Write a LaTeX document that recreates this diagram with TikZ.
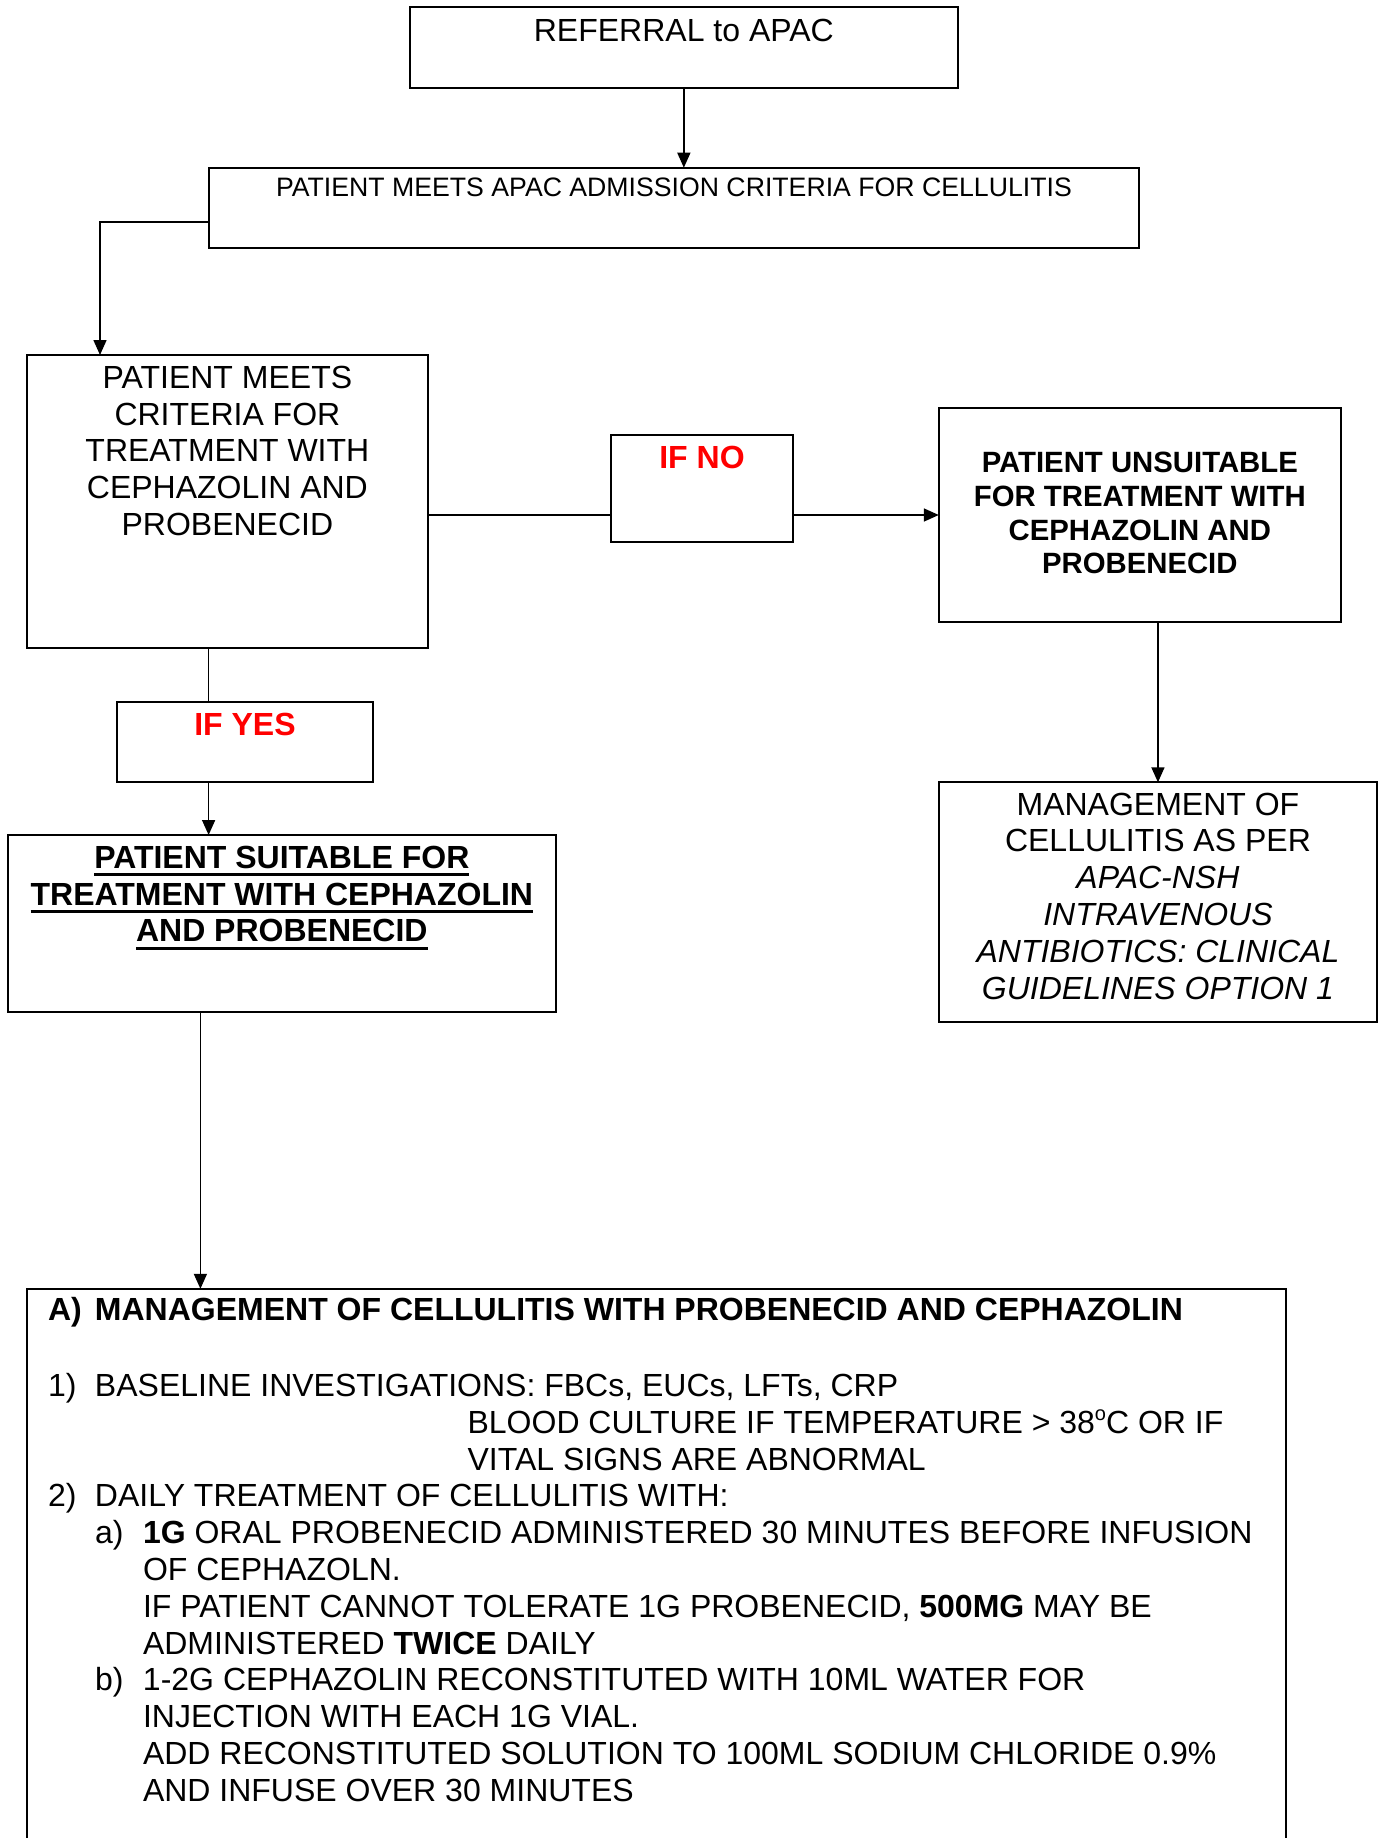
\documentclass[tikz,border=0pt]{standalone}
\usepackage{fontspec}
\setmainfont{Liberation Sans}
\usetikzlibrary{arrows.meta}
\newcommand\szA{\fontsize{32}{36.8}\selectfont}
\newcommand\szB{\fontsize{26.67}{30.67}\selectfont}
\newcommand\szC{\fontsize{29.33}{33.73}\selectfont}
\newcommand\ulbox[1]{\leavevmode\setbox0=\hbox{#1}\rlap{\rule[-8pt]{\wd0}{3pt}}\box0}
\newcommand\supo{\raisebox{13pt}{\fontsize{20}{20}\selectfont o}}
\tikzset{
  fbox/.style={draw, line width=2pt, inner sep=0pt, outer sep=0pt, anchor=north west, align=left},
  conn/.style={line width=1.6pt},
  arr/.style={conn, -{Triangle[length=15pt,width=13pt]}},
}
\begin{document}
\begin{tikzpicture}[x=1pt,y=-1pt]
\useasboundingbox (0,0) rectangle (1383,1838);
\clip (0,0) rectangle (1383,1838);
\fill[white] (0,0) rectangle (1383,1838);

\node[fbox] (b1) at (410.2,7.3) {\parbox[t][81pt][t]{547.3pt}{\centering\szA\rule{0pt}{34.4pt}REFERRAL to APAC}};

\node[fbox] (b2) at (208.6,167.7) {\parbox[t][80.6pt][t]{930.6pt}{\centering\szB\rule{0pt}{29pt}PATIENT MEETS APAC ADMISSION CRITERIA FOR CELLULITIS}};

\node[fbox] (b3) at (27,355) {\parbox[t][293.3pt][t]{400.8pt}{\centering\szA\rule{0pt}{33.3pt}PATIENT MEETS\\CRITERIA FOR\\TREATMENT WITH\\CEPHAZOLIN AND\\PROBENECID}};

\node[fbox] (ifno) at (610.6,435) {\parbox[t][106.7pt][t]{182.8pt}{\centering\szA\bfseries\color{red}\rule{0pt}{33.3pt}IF NO}};

\node[fbox] (b4) at (938.8,408.3) {\parbox[t][214pt][t]{402pt}{\centering\szC\bfseries\rule{0pt}{64.4pt}PATIENT UNSUITABLE\\FOR TREATMENT WITH\\CEPHAZOLIN AND\\PROBENECID}};

\node[fbox] (ifyes) at (117.2,701.7) {\parbox[t][80.6pt][t]{255.5pt}{\centering\szA\bfseries\color{red}\rule{0pt}{33.3pt}IF YES}};

\node[fbox] (b5) at (938.8,782.3) {\parbox[t][240pt][t]{438.3pt}{\centering\szA\rule{0pt}{32.7pt}MANAGEMENT OF\\CELLULITIS AS PER\\\textit{APAC-NSH}\\\textit{INTRAVENOUS}\\\textit{ANTIBIOTICS: CLINICAL}\\\textit{GUIDELINES OPTION 1}}};

\node[fbox] (b6) at (8.2,835) {\parbox[t][176.7pt][t]{547.3pt}{\centering\szA\bfseries\rule{0pt}{33.3pt}\ulbox{PATIENT SUITABLE FOR}\\\ulbox{TREATMENT WITH CEPHAZOLIN}\\\ulbox{AND PROBENECID}}};

\node[fbox] (b7) at (27,1288.8) {\parbox[t][571.2pt][t]{1258.7pt}{\raggedright\leftskip=21pt\szA
\rule{0pt}{32pt}\textbf{\makebox[47pt][l]{A)}MANAGEMENT OF CELLULITIS WITH PROBENECID AND CEPHAZOLIN}\\[38.8pt]
\makebox[47pt][l]{1)}BASELINE INVESTIGATIONS: FBCs, EUCs, LFTs, CRP\\
\hspace*{419.6pt}BLOOD CULTURE IF TEMPERATURE > 38\supo C OR IF\\
\hspace*{419.6pt}VITAL SIGNS ARE ABNORMAL\\
\makebox[47pt][l]{2)}DAILY TREATMENT OF CELLULITIS WITH:\\
\hspace*{47pt}\makebox[48pt][l]{a)}\textbf{1G} ORAL PROBENECID ADMINISTERED 30 MINUTES BEFORE INFUSION\\
\hspace*{95pt}OF CEPHAZOLN.\\
\hspace*{95pt}IF PATIENT CANNOT TOLERATE 1G PROBENECID, \textbf{500MG} MAY BE\\
\hspace*{95pt}ADMINISTERED \textbf{TWICE} DAILY\\
\hspace*{47pt}\makebox[48pt][l]{b)}1-2G CEPHAZOLIN RECONSTITUTED WITH 10ML WATER FOR\\
\hspace*{95pt}INJECTION WITH EACH 1G VIAL.\\
\hspace*{95pt}ADD RECONSTITUTED SOLUTION TO 100ML SODIUM CHLORIDE 0.9\%\\
\hspace*{95pt}AND INFUSE OVER 30 MINUTES}};

% connectors
\draw[arr] (b1.south) -- (b1.south |- b2.north);
\coordinate (e1) at (100,221.7);
\draw[arr] (b2.west |- e1) -- (e1) -- (e1 |- b3.north);
\coordinate (h) at (0,515);
\draw[conn] (b3.east |- h) -- (ifno.west |- h);
\draw[arr] (ifno.east |- h) -- (b4.west |- h);
\draw[arr] (b5.north |- b4.south) -- (b5.north);
\coordinate (v3) at (208.6,0);
\draw[conn] (b3.south -| v3) -- (ifyes.north -| v3);
\draw[arr] (ifyes.south -| v3) -- (b6.north -| v3);
\coordinate (v6) at (200.4,0);
\draw[arr] (b6.south -| v6) -- (b7.north -| v6);
\end{tikzpicture}
\end{document}
